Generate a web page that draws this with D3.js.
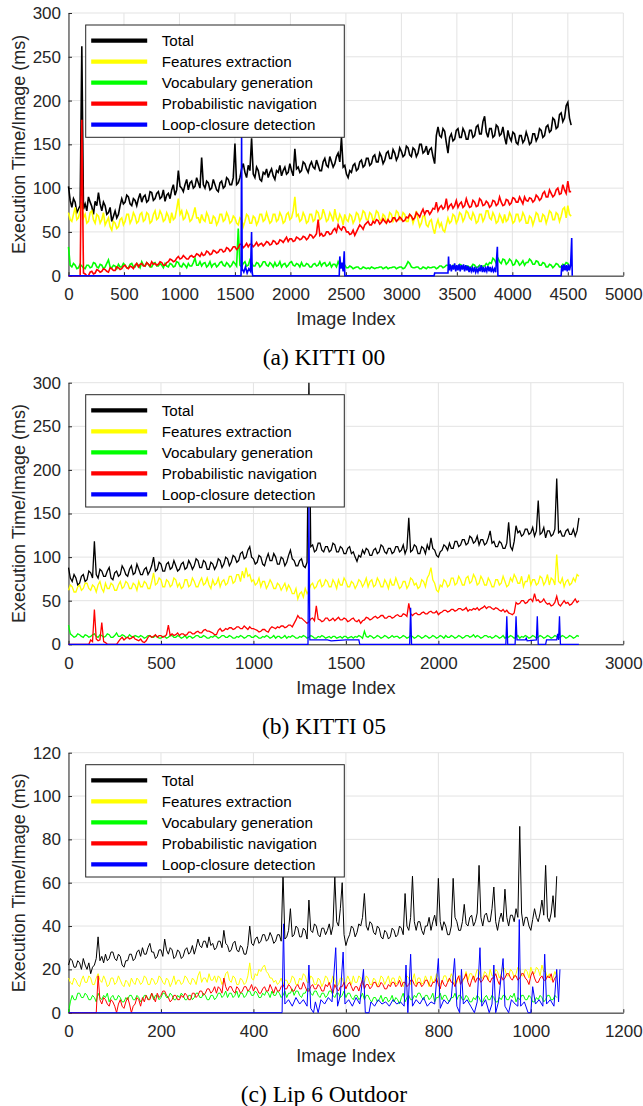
<!DOCTYPE html>
<html>
<head>
<meta charset="utf-8">
<script src="https://d3js.org/d3.v7.min.js"></script>
<style>
  body { margin: 0; background: #fff; }
  svg { display: block; }
</style>
</head>
<body>
<svg id="fig" width="643" height="1106"></svg>
<script>
// series shared by all three panels
var seriesNames = ["Total", "Features extraction", "Vocabulary generation", "Probabilistic navigation", "Loop-closure detection"];
var seriesColors = ["#000000", "#ffff00", "#00ff00", "#ff0000", "#0000ff"];

// ---- KITTI 00 : one value every 15 images (one row = 300 images) ----
var k00Step = 15;
var k00Total = [
  102, 86, 78, 88, 84, 72, 76, 80, 262, 76, 82, 74, 90, 84, 79, 70, 85, 80, 95, 82,
  74, 84, 80, 70, 72, 78, 62, 68, 74, 66, 70, 80, 88, 82, 84, 92, 90, 82, 80, 88,
  86, 80, 88, 94, 84, 90, 92, 84, 86, 96, 95, 86, 88, 94, 96, 88, 90, 98, 85, 92,
  94, 88, 98, 104, 92, 98, 120, 102, 100, 96, 104, 110, 98, 106, 108, 100, 102, 112, 106, 100,
  135, 104, 100, 108, 106, 98, 100, 110, 104, 98, 96, 106, 108, 100, 102, 112, 110, 104, 104, 112,
  151, 104, 106, 112, 122, 128, 118, 112, 126, 120, 157, 116, 112, 124, 120, 110, 108, 118, 116, 122,
  112, 118, 122, 114, 110, 120, 118, 126, 114, 120, 124, 116, 118, 128, 120, 114, 145, 122, 124, 118,
  120, 130, 128, 122, 118, 126, 130, 124, 122, 132, 126, 120, 120, 130, 134, 126, 124, 136, 130, 124,
  128, 136, 140, 130, 158, 124, 126, 116, 112, 120, 118, 126, 128, 120, 122, 130, 132, 124, 126, 134,
  134, 126, 128, 136, 138, 130, 130, 140, 136, 128, 132, 140, 142, 134, 134, 144, 140, 132, 136, 146,
  142, 136, 138, 148, 146, 138, 136, 146, 144, 136, 140, 150, 150, 140, 142, 148, 138, 144, 146, 136,
  128, 160, 170, 160, 158, 168, 165, 152, 140, 158, 162, 154, 156, 166, 168, 158, 158, 168, 164, 156,
  156, 166, 166, 158, 160, 170, 172, 162, 162, 176, 182, 164, 158, 168, 168, 158, 160, 172, 170, 160,
  162, 170, 158, 150, 166, 158, 154, 164, 162, 152, 150, 160, 160, 152, 155, 164, 158, 150, 152, 162,
  162, 154, 158, 168, 166, 158, 160, 170, 172, 164, 166, 180, 178, 168, 170, 184, 186, 176, 180, 194,
  198, 180, 172
];
var k00Feat = [
  72, 64, 62, 70, 78, 64, 66, 74, 84, 66, 70, 60, 62, 72, 74, 64, 60, 70, 68, 60,
  64, 72, 58, 62, 66, 56, 52, 62, 60, 54, 56, 64, 66, 58, 62, 70, 70, 60, 64, 72,
  68, 60, 62, 70, 72, 62, 64, 72, 70, 60, 62, 70, 74, 64, 66, 74, 70, 62, 64, 72,
  68, 60, 72, 64, 66, 76, 88, 70, 74, 64, 66, 74, 70, 62, 64, 70, 78, 66, 66, 60,
  70, 64, 62, 72, 68, 60, 60, 68, 66, 58, 62, 70, 70, 62, 64, 72, 68, 60, 62, 68,
  66, 60, 58, 66, 64, 56, 62, 70, 68, 60, 60, 68, 66, 58, 62, 70, 70, 62, 64, 72,
  66, 60, 62, 70, 70, 62, 64, 72, 68, 60, 62, 70, 72, 64, 66, 74, 90, 68, 70, 62,
  64, 72, 68, 60, 62, 70, 70, 62, 64, 74, 72, 64, 66, 76, 70, 62, 64, 72, 68, 62,
  76, 66, 62, 70, 66, 58, 70, 64, 62, 70, 68, 60, 64, 72, 70, 62, 66, 74, 72, 64,
  64, 72, 70, 62, 66, 74, 72, 64, 62, 70, 68, 60, 64, 72, 70, 62, 66, 74, 72, 64,
  64, 72, 70, 62, 62, 70, 68, 60, 66, 74, 64, 56, 60, 68, 68, 58, 56, 62, 64, 54,
  48, 58, 64, 56, 60, 52, 50, 58, 66, 60, 62, 70, 68, 60, 64, 72, 70, 62, 66, 74,
  72, 66, 64, 72, 68, 60, 62, 70, 70, 62, 66, 74, 74, 66, 64, 72, 68, 60, 62, 70,
  66, 60, 70, 62, 64, 72, 68, 60, 62, 70, 70, 62, 64, 72, 68, 60, 60, 68, 66, 58,
  64, 72, 70, 62, 62, 70, 68, 60, 66, 74, 72, 64, 64, 72, 70, 62, 68, 76, 78, 66,
  80, 70, 68
];
var k00Voc = [
  33, 12, 10, 14, 12, 8, 9, 13, 11, 9, 8, 12, 12, 9, 10, 15, 14, 10, 9, 13,
  12, 8, 10, 14, 18, 10, 9, 12, 11, 8, 13, 10, 10, 14, 12, 9, 9, 13, 14, 10,
  10, 14, 12, 9, 16, 12, 11, 15, 13, 10, 10, 14, 15, 11, 11, 14, 12, 9, 14, 11,
  10, 14, 13, 10, 11, 16, 15, 11, 10, 14, 12, 9, 14, 11, 11, 15, 20, 12, 12, 16,
  11, 14, 15, 10, 12, 16, 10, 13, 14, 10, 12, 15, 16, 12, 11, 15, 13, 10, 12, 16,
  14, 11, 54, 12, 10, 14, 16, 11, 12, 18, 15, 11, 11, 15, 14, 10, 12, 16, 16, 12,
  11, 15, 13, 10, 15, 11, 12, 16, 10, 13, 14, 10, 12, 15, 16, 12, 11, 14, 13, 10,
  15, 11, 11, 14, 13, 10, 10, 13, 14, 11, 12, 16, 11, 14, 15, 11, 12, 15, 10, 13,
  13, 10, 16, 12, 10, 13, 12, 9, 9, 11, 10, 8, 9, 10, 10, 8, 8, 10, 9, 8,
  9, 8, 10, 9, 8, 9, 9, 10, 10, 8, 9, 10, 8, 9, 9, 10, 10, 8, 9, 10,
  10, 8, 9, 12, 16, 14, 10, 9, 9, 10, 10, 8, 8, 10, 9, 8, 10, 9, 9, 10,
  10, 8, 9, 11, 11, 9, 10, 12, 12, 9, 9, 12, 11, 9, 10, 13, 12, 9, 9, 11,
  11, 9, 10, 13, 12, 9, 10, 12, 9, 11, 11, 14, 12, 15, 14, 20, 18, 14, 20, 16,
  14, 19, 18, 13, 15, 19, 17, 12, 13, 18, 16, 12, 14, 17, 12, 15, 15, 19, 17, 13,
  13, 17, 16, 12, 12, 15, 14, 10, 10, 13, 12, 9, 11, 14, 13, 10, 10, 13, 12, 15,
  14, 10, 11
];
var k00Nav = [
  0, 0, 0, 0, 0, 0, 0, 0, 178, 3, 2, 0, 0, 4, 5, 2, 3, 7, 6, 4,
  5, 8, 7, 5, 4, 9, 8, 6, 6, 10, 9, 7, 8, 11, 12, 9, 8, 11, 10, 8,
  12, 14, 10, 13, 14, 11, 11, 15, 13, 11, 16, 13, 14, 12, 13, 16, 15, 12, 12, 15,
  16, 19, 18, 16, 17, 20, 22, 19, 20, 23, 21, 19, 19, 22, 23, 21, 22, 25, 24, 22,
  26, 23, 24, 28, 27, 24, 25, 29, 28, 26, 27, 30, 30, 27, 28, 32, 31, 28, 30, 33,
  33, 30, 32, 36, 36, 32, 34, 37, 33, 36, 36, 33, 35, 38, 34, 36, 37, 34, 36, 39,
  38, 35, 36, 40, 39, 36, 37, 41, 40, 38, 41, 44, 39, 42, 42, 39, 40, 44, 43, 41,
  42, 45, 44, 41, 43, 47, 46, 43, 45, 48, 64, 46, 48, 45, 46, 50, 50, 47, 48, 52,
  54, 50, 58, 54, 52, 56, 55, 50, 50, 47, 48, 52, 46, 50, 54, 58, 56, 53, 58, 60,
  62, 58, 58, 62, 60, 64, 63, 59, 61, 65, 62, 60, 64, 61, 62, 66, 66, 62, 64, 67,
  65, 62, 63, 67, 66, 70, 68, 64, 66, 72, 70, 67, 72, 76, 70, 74, 74, 70, 73, 77,
  76, 84, 74, 78, 80, 76, 78, 88, 76, 80, 82, 77, 80, 86, 78, 82, 84, 78, 80, 88,
  82, 78, 79, 86, 84, 79, 80, 88, 86, 80, 81, 85, 83, 78, 80, 86, 85, 80, 82, 90,
  84, 80, 81, 87, 86, 81, 83, 89, 88, 84, 84, 90, 86, 82, 90, 86, 85, 89, 88, 84,
  86, 92, 90, 86, 88, 94, 96, 90, 90, 98, 94, 90, 92, 98, 100, 93, 94, 104, 98, 94,
  108, 96, 96
];
// loop closure: [image index, ms]
var k00Loop = [
  [0, 0], [1555, 0], [1560, 160], [1565, 8], [1580, 4], [1595, 10], [1610, 3], [1625, 8], [1640, 5],
  [1650, 50], [1655, 5], [1660, 0], [2440, 0], [2445, 22], [2455, 8], [2465, 15], [2475, 5], [2485, 28],
  [2490, 0], [3295, 0], [3300, 3], [3420, 3], [3425, 22], [3430, 6], [3440, 13], [3450, 5], [3460, 12],
  [3470, 7], [3480, 14], [3490, 5], [3500, 12], [3510, 6], [3520, 13], [3530, 5], [3540, 12], [3550, 7],
  [3560, 13], [3570, 5], [3580, 12], [3590, 6], [3600, 11], [3610, 4], [3620, 10], [3630, 5], [3640, 9],
  [3650, 4], [3660, 10], [3670, 4], [3680, 8], [3690, 4], [3700, 9], [3710, 5], [3720, 12], [3730, 4],
  [3740, 10], [3750, 4], [3760, 9], [3770, 5], [3780, 11], [3790, 5], [3800, 10], [3810, 4], [3820, 9],
  [3830, 5], [3840, 8], [3850, 4], [3865, 33], [3870, 0], [4440, 0], [4445, 12], [4455, 5], [4465, 13],
  [4475, 6], [4485, 12], [4495, 5], [4505, 13], [4515, 6], [4525, 12], [4535, 43], [4540, 0]
];

// ---- KITTI 05 : one value every 10 images (one row = 200 images) ----
var k05Step = 10;
var k05Total = [
  88, 76, 72, 80, 76, 68, 70, 78, 80, 72, 74, 84, 82, 76, 118, 80, 76, 86, 84, 78,
  78, 84, 88, 76, 74, 82, 84, 78, 80, 90, 86, 80, 78, 86, 90, 80, 82, 92, 86, 80,
  80, 86, 88, 80, 84, 90, 100, 84, 86, 94, 92, 84, 84, 92, 94, 86, 88, 96, 90, 84,
  86, 92, 94, 86, 88, 96, 92, 86, 90, 98, 96, 88, 88, 96, 94, 86, 86, 94, 92, 86,
  90, 98, 96, 88, 92, 100, 98, 90, 94, 102, 100, 94, 96, 104, 106, 98, 100, 108, 112, 100,
  98, 92, 94, 102, 100, 92, 90, 98, 104, 96, 96, 104, 100, 92, 92, 100, 98, 90, 94, 102,
  108, 98, 96, 90, 90, 96, 98, 90, 88, 94, 300, 112, 114, 106, 108, 116, 116, 108, 106, 112,
  112, 106, 108, 116, 114, 106, 106, 112, 110, 104, 104, 110, 112, 104, 106, 100, 95, 102, 100, 108,
  104, 110, 108, 102, 102, 108, 110, 104, 106, 114, 112, 106, 104, 110, 110, 104, 106, 112, 112, 106,
  108, 114, 104, 110, 145, 106, 108, 114, 112, 104, 104, 112, 110, 104, 114, 108, 122, 110, 108, 102,
  100, 106, 108, 114, 112, 108, 116, 110, 110, 118, 118, 112, 114, 120, 120, 114, 116, 124, 122, 116,
  118, 124, 114, 120, 120, 114, 116, 122, 130, 116, 118, 112, 112, 118, 116, 110, 110, 116, 140, 112,
  108, 118, 136, 128, 130, 124, 126, 132, 132, 126, 128, 134, 124, 130, 165, 126, 128, 134, 122, 130,
  130, 124, 126, 132, 190, 128, 130, 124, 124, 130, 132, 126, 126, 132, 124, 130, 145
];
var k05Feat = [
  62, 68, 66, 60, 60, 66, 68, 62, 64, 70, 70, 64, 62, 68, 66, 60, 68, 72, 64, 60,
  70, 64, 64, 70, 68, 62, 62, 68, 72, 64, 66, 72, 70, 64, 64, 70, 68, 62, 72, 66,
  66, 72, 70, 64, 64, 72, 82, 68, 70, 76, 74, 66, 66, 74, 72, 66, 68, 76, 74, 66,
  70, 64, 66, 74, 74, 66, 68, 76, 72, 66, 66, 72, 76, 68, 70, 76, 68, 64, 74, 68,
  70, 76, 66, 72, 74, 68, 70, 78, 78, 70, 72, 80, 80, 72, 84, 76, 88, 78, 80, 72,
  74, 68, 70, 76, 66, 72, 72, 64, 68, 74, 70, 64, 64, 70, 68, 62, 66, 70, 62, 68,
  64, 58, 58, 64, 52, 58, 60, 54, 64, 58, 62, 68, 70, 64, 66, 72, 74, 66, 68, 74,
  72, 66, 66, 74, 70, 64, 74, 68, 68, 76, 72, 66, 66, 72, 70, 64, 68, 74, 72, 66,
  70, 76, 66, 72, 74, 66, 68, 76, 72, 66, 66, 74, 70, 64, 74, 68, 68, 76, 70, 64,
  66, 72, 72, 64, 68, 76, 74, 68, 70, 64, 66, 74, 72, 66, 76, 80, 88, 74, 70, 62,
  60, 68, 66, 74, 72, 66, 68, 76, 76, 68, 70, 78, 74, 68, 68, 76, 78, 70, 72, 80,
  76, 68, 70, 78, 74, 68, 68, 76, 72, 66, 66, 74, 74, 68, 70, 78, 72, 66, 68, 76,
  72, 80, 76, 70, 70, 78, 66, 72, 72, 80, 68, 74, 74, 68, 70, 78, 76, 68, 72, 80,
  68, 76, 74, 68, 103, 72, 70, 76, 66, 72, 74, 68, 70, 76, 72, 80, 78
];
var k05Voc = [
  22, 12, 10, 8, 9, 12, 11, 9, 8, 11, 10, 8, 9, 11, 12, 9, 8, 11, 10, 8,
  9, 12, 11, 8, 8, 10, 13, 9, 9, 11, 10, 8, 8, 11, 9, 8, 10, 9, 8, 10,
  9, 7, 8, 10, 10, 8, 8, 10, 9, 7, 7, 9, 9, 7, 8, 10, 10, 8, 8, 10,
  9, 7, 8, 10, 7, 9, 9, 7, 8, 10, 10, 8, 8, 10, 9, 7, 7, 9, 8, 10,
  9, 7, 8, 10, 10, 8, 8, 10, 9, 7, 7, 9, 8, 10, 9, 7, 8, 10, 10, 8,
  8, 10, 9, 7, 7, 9, 8, 10, 9, 7, 8, 10, 7, 9, 9, 7, 8, 10, 7, 9,
  8, 10, 9, 7, 7, 9, 8, 10, 9, 7, 8, 10, 9, 7, 7, 9, 8, 10, 9, 7,
  8, 9, 7, 9, 9, 7, 8, 9, 7, 9, 9, 7, 8, 9, 7, 9, 8, 10, 9, 7,
  15, 9, 8, 10, 9, 7, 8, 10, 9, 7, 8, 10, 9, 7, 8, 10, 8, 9, 9, 7,
  8, 10, 9, 7, 8, 10, 9, 7, 8, 10, 9, 7, 8, 10, 9, 7, 8, 10, 9, 7,
  8, 10, 9, 7, 10, 8, 8, 10, 9, 7, 8, 10, 9, 7, 8, 10, 10, 8, 9, 11,
  8, 10, 9, 7, 8, 10, 10, 8, 9, 7, 8, 10, 9, 7, 8, 10, 7, 9, 8, 10,
  9, 7, 8, 10, 7, 9, 8, 10, 9, 7, 8, 10, 9, 7, 8, 10, 9, 7, 8, 10,
  9, 7, 8, 10, 9, 7, 8, 10, 9, 7, 8, 10, 9, 7, 8, 10, 9
];
var k05Nav = [
  0, 0, 0, 0, 0, 0, 0, 0, 0, 0, 0, 0, 5, 3, 40, 6, 4, 5, 25, 3,
  2, 0, 0, 0, 0, 0, 0, 3, 6, 8, 5, 7, 8, 6, 7, 9, 6, 5, 4, 6,
  3, 2, 4, 8, 10, 8, 9, 11, 8, 10, 10, 8, 9, 11, 22, 10, 12, 10, 11, 13,
  10, 12, 12, 10, 11, 14, 14, 12, 12, 14, 15, 13, 13, 16, 17, 15, 15, 14, 13, 11,
  11, 16, 18, 15, 16, 18, 17, 19, 19, 17, 18, 20, 20, 18, 18, 21, 19, 17, 20, 18,
  18, 17, 16, 14, 15, 17, 17, 15, 14, 18, 20, 19, 18, 20, 19, 21, 21, 19, 20, 22,
  22, 20, 24, 28, 33, 30, 30, 28, 26, 24, 26, 29, 30, 27, 44, 29, 28, 26, 27, 30,
  30, 27, 28, 30, 27, 29, 31, 28, 28, 30, 29, 26, 27, 29, 30, 27, 26, 28, 24, 27,
  28, 31, 30, 28, 29, 31, 32, 30, 31, 33, 33, 30, 30, 32, 32, 30, 31, 33, 34, 32,
  32, 35, 34, 32, 47, 35, 33, 35, 36, 34, 34, 36, 37, 35, 35, 37, 38, 36, 36, 38,
  34, 36, 37, 39, 39, 37, 38, 40, 40, 38, 39, 41, 41, 39, 40, 42, 38, 40, 39, 41,
  40, 42, 39, 41, 42, 44, 41, 43, 43, 41, 40, 42, 41, 39, 38, 40, 37, 39, 36, 35,
  34, 36, 48, 46, 47, 50, 50, 47, 48, 51, 52, 49, 58, 50, 51, 48, 49, 52, 48, 46,
  47, 44, 45, 48, 55, 46, 44, 47, 50, 47, 48, 45, 46, 49, 52, 48, 50
];
var k05Loop = [
  [0, 0], [1295, 0], [1300, 158], [1305, 5], [1400, 5], [1420, 4], [1500, 5], [1570, 5], [1575, 0],
  [1845, 0], [1850, 42], [1855, 0], [2365, 0], [2370, 32], [2375, 0], [2415, 0], [2420, 32], [2425, 5],
  [2470, 5], [2475, 7], [2480, 4], [2530, 5], [2535, 32], [2540, 0], [2580, 0], [2585, 5], [2640, 5],
  [2645, 12], [2650, 5], [2655, 32], [2660, 0], [2760, 0]
];

// ---- Lip 6 Outdoor : one value every 4 images (one row = 80 images) ----
var lipStep = 4;
var lipTotal = [
  22, 25, 24, 21, 21, 24, 23, 20, 25, 22, 20, 23, 18, 21, 22, 25, 35, 24, 26, 23,
  27, 24, 25, 28, 28, 25, 24, 27, 26, 22, 21, 24, 24, 27, 27, 24, 25, 28, 29, 26,
  30, 27, 27, 30, 32, 28, 28, 25, 26, 29, 29, 26, 34, 29, 27, 30, 29, 25, 26, 29,
  28, 25, 26, 29, 30, 27, 28, 31, 27, 30, 34, 31, 30, 33, 33, 30, 35, 31, 32, 29,
  30, 33, 33, 30, 38, 32, 31, 28, 29, 32, 33, 29, 28, 31, 30, 27, 27, 31, 40, 32,
  31, 34, 35, 32, 33, 36, 36, 33, 34, 37, 35, 32, 33, 36, 36, 33, 65, 34, 35, 38,
  48, 35, 36, 40, 39, 35, 35, 39, 38, 34, 52, 38, 37, 41, 40, 36, 35, 39, 39, 36,
  38, 41, 36, 40, 63, 42, 40, 48, 60, 36, 31, 34, 36, 40, 39, 35, 37, 41, 40, 44,
  55, 40, 38, 42, 41, 37, 36, 40, 39, 35, 34, 38, 37, 34, 35, 39, 38, 35, 36, 40,
  39, 36, 55, 40, 38, 44, 63, 42, 38, 42, 42, 38, 36, 40, 40, 44, 38, 42, 45, 40,
  62, 42, 38, 42, 40, 36, 36, 40, 62, 44, 42, 38, 38, 42, 50, 41, 40, 44, 45, 40,
  42, 46, 68, 44, 40, 45, 46, 42, 42, 48, 58, 42, 38, 43, 46, 42, 57, 44, 40, 45,
  45, 42, 48, 44, 86, 46, 40, 44, 44, 40, 38, 43, 48, 44, 42, 46, 52, 45, 68, 44,
  42, 46, 54, 44, 63
];
var lipFeat = [
  16, 14, 13, 16, 15, 13, 12, 15, 17, 14, 14, 17, 16, 13, 13, 16, 18, 15, 14, 17,
  15, 12, 13, 16, 16, 13, 14, 17, 15, 13, 12, 15, 14, 12, 16, 14, 13, 16, 15, 13,
  14, 17, 16, 13, 13, 16, 15, 13, 14, 17, 16, 14, 13, 16, 15, 12, 14, 17, 13, 15,
  15, 13, 14, 17, 16, 14, 13, 16, 15, 13, 17, 19, 14, 16, 16, 14, 18, 15, 15, 17,
  14, 17, 16, 13, 15, 18, 19, 15, 14, 17, 16, 13, 13, 16, 15, 13, 14, 17, 23, 16,
  15, 18, 17, 20, 19, 21, 22, 19, 18, 16, 16, 14, 15, 13, 14, 16, 13, 15, 15, 13,
  14, 17, 16, 13, 13, 16, 15, 18, 17, 14, 14, 17, 16, 13, 13, 16, 15, 12, 14, 17,
  16, 13, 14, 17, 15, 12, 13, 16, 16, 13, 14, 17, 15, 13, 17, 14, 14, 17, 16, 13,
  14, 17, 16, 13, 13, 16, 15, 12, 14, 17, 16, 13, 15, 17, 13, 16, 16, 13, 14, 17,
  15, 12, 14, 17, 16, 13, 15, 18, 13, 16, 16, 13, 14, 17, 15, 12, 17, 14, 15, 18,
  16, 13, 14, 17, 17, 14, 15, 18, 16, 13, 14, 17, 17, 14, 16, 19, 15, 18, 18, 15,
  17, 20, 19, 16, 16, 19, 18, 15, 20, 17, 17, 20, 19, 16, 18, 21, 20, 17, 17, 20,
  19, 16, 18, 21, 20, 17, 17, 20, 19, 16, 21, 18, 18, 21, 20, 17, 22, 19, 19, 16,
  18, 15, 16, 19, 17
];
var lipVoc = [
  0, 5, 8, 6, 6, 9, 9, 7, 7, 9, 8, 6, 6, 8, 7, 5, 9, 7, 6, 8,
  7, 9, 5, 7, 8, 6, 6, 8, 7, 5, 5, 7, 6, 8, 8, 6, 6, 8, 7, 5,
  6, 8, 8, 6, 7, 9, 6, 8, 8, 6, 7, 9, 9, 7, 7, 9, 8, 6, 6, 8,
  7, 9, 8, 6, 6, 8, 8, 6, 7, 9, 9, 7, 7, 9, 8, 6, 6, 8, 8, 6,
  7, 9, 9, 7, 8, 10, 7, 9, 9, 7, 8, 10, 7, 9, 9, 7, 8, 10, 10, 8,
  8, 10, 9, 7, 7, 9, 8, 10, 9, 7, 10, 8, 8, 10, 9, 7, 8, 10, 7, 9,
  9, 11, 8, 10, 10, 8, 7, 9, 9, 11, 11, 9, 8, 10, 10, 8, 7, 9, 9, 7,
  8, 10, 10, 8, 7, 9, 9, 7, 8, 10, 7, 9, 9, 7, 6, 8, 8, 6, 7, 9,
  6, 8, 8, 6, 5, 7, 7, 5, 6, 8, 5, 7, 7, 5, 6, 8, 5, 7, 6, 4,
  7, 9, 5, 7, 8, 6, 6, 8, 7, 9, 9, 7, 6, 8, 8, 6, 7, 9, 5, 7,
  7, 9, 6, 8, 8, 6, 5, 7, 7, 9, 6, 8, 8, 6, 6, 8, 7, 5, 5, 7,
  6, 8, 7, 5, 5, 7, 8, 6, 6, 8, 7, 5, 5, 7, 6, 8, 8, 6, 6, 8,
  7, 9, 5, 7, 6, 8, 8, 6, 6, 8, 7, 5, 5, 7, 6, 8, 7, 5, 6, 8,
  8, 6, 6, 8, 7
];
var lipNav = [
  0, 0, 0, 0, 0, 0, 0, 0, 0, 0, 0, 0, 0, 0, 0, 0, 17, 6, 4, 7,
  6, 4, 3, 6, 5, 3, 0, 4, 6, 3, 2, 5, 7, 4, 0, 3, 4, 7, 6, 3,
  7, 5, 8, 6, 6, 9, 7, 5, 9, 7, 8, 10, 10, 8, 7, 5, 6, 8, 8, 6,
  6, 8, 7, 9, 8, 6, 6, 9, 9, 7, 8, 10, 10, 8, 9, 11, 11, 9, 10, 12,
  9, 12, 11, 9, 16, 12, 10, 12, 12, 10, 9, 12, 11, 9, 10, 12, 12, 10, 11, 13,
  10, 12, 11, 9, 9, 11, 12, 10, 10, 13, 11, 9, 12, 10, 10, 12, 13, 11, 11, 13,
  12, 10, 10, 12, 13, 11, 11, 14, 12, 10, 10, 12, 13, 11, 11, 13, 12, 10, 10, 13,
  12, 14, 11, 9, 13, 11, 10, 12, 12, 14, 11, 13, 14, 12, 10, 12, 12, 10, 13, 15,
  11, 13, 13, 11, 12, 14, 14, 12, 12, 14, 13, 11, 11, 13, 12, 14, 14, 12, 13, 15,
  12, 14, 14, 12, 13, 15, 15, 13, 12, 14, 14, 12, 13, 15, 15, 13, 12, 14, 14, 16,
  13, 11, 15, 13, 12, 14, 16, 14, 14, 12, 15, 17, 13, 15, 16, 18, 14, 12, 15, 17,
  14, 16, 16, 14, 15, 17, 17, 15, 14, 16, 16, 18, 15, 13, 17, 15, 16, 18, 18, 16,
  15, 17, 17, 15, 16, 18, 18, 16, 15, 13, 17, 19, 16, 14, 14, 16, 17, 15, 15, 17,
  16, 18, 14, 16, 17
];
var lipLoop = [
  [0, 0], [462, 0], [465, 41], [468, 4], [476, 6], [484, 3], [492, 7], [500, 4], [508, 6], [516, 3],
  [520, 22], [524, 2], [530, 0], [534, 5], [540, 0], [546, 6], [554, 4], [562, 7], [570, 5], [578, 30],
  [582, 3], [588, 8], [594, 28], [598, 4], [606, 6], [614, 3], [622, 7], [630, 4], [638, 20], [642, 0],
  [650, 0], [654, 5], [662, 3], [670, 6], [678, 4], [686, 5], [694, 3], [702, 6], [710, 4], [718, 5],
  [726, 3], [730, 22], [734, 0], [740, 27], [744, 3], [752, 6], [760, 4], [768, 7], [776, 3], [784, 5],
  [792, 4], [800, 25], [804, 2], [812, 6], [820, 4], [828, 7], [835, 25], [840, 3], [846, 0], [850, 20],
  [854, 4], [862, 6], [870, 3], [878, 0], [884, 5], [890, 30], [894, 3], [902, 6], [910, 0], [916, 4],
  [920, 22], [924, 0], [930, 5], [940, 25], [944, 3], [952, 0], [958, 6], [966, 4], [972, 3], [975, 43],
  [978, 3], [986, 5], [994, 0], [1000, 0], [1004, 12], [1010, 4], [1018, 6], [1026, 3], [1030, 27],
  [1034, 4], [1042, 6], [1050, 3], [1056, 20], [1060, 5], [1063, 20]
];

// turn evenly sampled values into [index, ms] pairs
function sampled(values, step) {
    return values.map(function (v, i) { return [i * step, v]; });
}

var panels = [
  { title: "(a) KITTI 00", top: 13, bottom: 275.7, xMax: 5000, xStep: 500, yMax: 300, yStep: 50, lw: 1.6,
    series: [sampled(k00Total, k00Step), sampled(k00Feat, k00Step), sampled(k00Voc, k00Step), sampled(k00Nav, k00Step), k00Loop] },
  { title: "(b) KITTI 05", top: 382.7, bottom: 644.3, xMax: 3000, xStep: 500, yMax: 300, yStep: 50, lw: 1.3,
    series: [sampled(k05Total, k05Step), sampled(k05Feat, k05Step), sampled(k05Voc, k05Step), sampled(k05Nav, k05Step), k05Loop] },
  { title: "(c) Lip 6 Outdoor", top: 752.7, bottom: 1012.7, xMax: 1200, xStep: 200, yMax: 120, yStep: 20, lw: 1,
    series: [sampled(lipTotal, lipStep), sampled(lipFeat, lipStep), sampled(lipVoc, lipStep), sampled(lipNav, lipStep), lipLoop] }
];

var svg = d3.select("#fig");
svg.append("rect").attr("width", 643).attr("height", 1106).attr("fill", "#fff");

var left = 68.5, right = 623.3;
var axisColor = "#262626";
var sans = "'Liberation Sans', Arial, Helvetica, sans-serif";

function drawPanel(p) {
    var g = svg.append("g");
    var x = d3.scaleLinear().domain([0, p.xMax]).range([left, right]);
    var y = d3.scaleLinear().domain([0, p.yMax]).range([p.bottom, p.top]);
    var xTicks = d3.range(0, p.xMax + 1, p.xStep);
    var yTicks = d3.range(0, p.yMax + 1, p.yStep);

    // grid
    g.append("g").selectAll("line").data(xTicks).enter().append("line")
        .attr("x1", function (d) { return x(d); }).attr("x2", function (d) { return x(d); })
        .attr("y1", p.top).attr("y2", p.bottom)
        .attr("stroke", "#e3e3e3").attr("stroke-width", 1);
    g.append("g").selectAll("line").data(yTicks).enter().append("line")
        .attr("x1", left).attr("x2", right)
        .attr("y1", function (d) { return y(d); }).attr("y2", function (d) { return y(d); })
        .attr("stroke", "#e3e3e3").attr("stroke-width", 1);

    // axes, ticks pointing inward (matlab style)
    var xAxis = g.append("g")
        .attr("transform", "translate(0," + p.bottom + ")")
        .call(d3.axisBottom(x).tickValues(xTicks).tickFormat(d3.format("d"))
            .tickSizeInner(-3.5).tickSizeOuter(0).tickPadding(12.4));
    var yAxis = g.append("g")
        .attr("transform", "translate(" + left + ",0)")
        .call(d3.axisLeft(y).tickValues(yTicks).tickFormat(d3.format("d"))
            .tickSizeInner(-3.5).tickSizeOuter(0).tickPadding(7.5));
    [xAxis, yAxis].forEach(function (a) {
        a.attr("color", axisColor).attr("font-family", sans).attr("font-size", 17);
        a.select(".domain").attr("stroke-width", 1);
    });

    // data lines
    var line = d3.line()
        .x(function (d) { return x(d[0]); })
        .y(function (d) { return y(d[1]); });
    p.series.forEach(function (s, i) {
        g.append("path")
            .datum(s)
            .attr("d", line)
            .attr("fill", "none")
            .attr("stroke", seriesColors[i])
            .attr("stroke-width", p.lw)
            .attr("stroke-linejoin", "miter");
    });

    // legend
    var lg = g.append("g").attr("transform", "translate(85.7," + (p.top + 12) + ")");
    lg.append("rect")
        .attr("width", 258.6).attr("height", 112.3)
        .attr("fill", "#fff").attr("stroke", axisColor).attr("stroke-width", 1);
    seriesNames.forEach(function (name, i) {
        var cy = 15.7 + i * 21;
        lg.append("line")
            .attr("x1", 5.5).attr("x2", 61.5).attr("y1", cy).attr("y2", cy)
            .attr("stroke", seriesColors[i]).attr("stroke-width", 4.2);
        lg.append("text")
            .attr("x", 76).attr("y", cy + 5.2)
            .attr("font-family", sans).attr("font-size", 15.2)
            .attr("fill", "#000")
            .text(name);
    });

    // axis labels
    g.append("text")
        .attr("x", (left + right) / 2).attr("y", p.bottom + 49.3)
        .attr("text-anchor", "middle")
        .attr("font-family", sans).attr("font-size", 18).attr("fill", axisColor)
        .text("Image Index");
    g.append("text")
        .attr("transform", "translate(24.6," + ((p.top + p.bottom) / 2) + ") rotate(-90)")
        .attr("text-anchor", "middle")
        .attr("font-family", sans).attr("font-size", 18).attr("fill", axisColor)
        .text("Execution Time/Image (ms)");

    // caption under each panel
    g.append("text")
        .attr("x", 324).attr("y", p.bottom + 89.3)
        .attr("text-anchor", "middle")
        .attr("font-family", "'Liberation Serif', 'Times New Roman', serif")
        .attr("font-size", 23.5).attr("fill", "#000")
        .text(p.title);
}

panels.forEach(drawPanel);
</script>
</body>
</html>
